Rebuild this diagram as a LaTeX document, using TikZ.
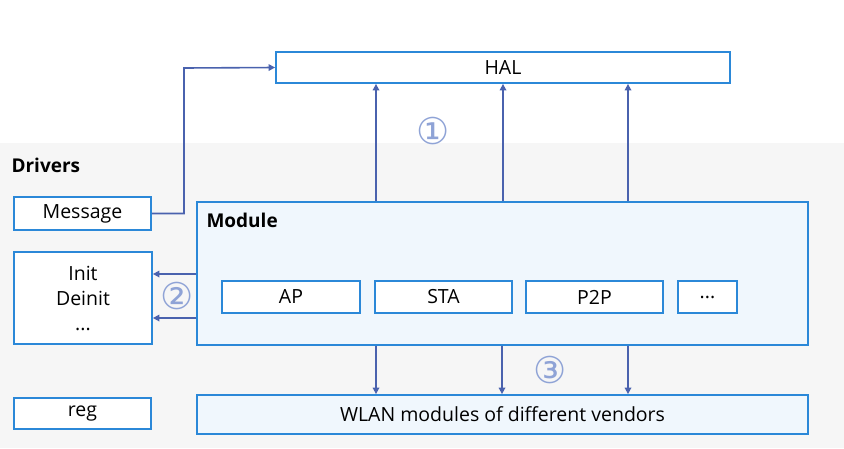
\documentclass[tikz,border=0pt]{standalone}
\usepackage{fontspec}
\setmainfont{Open Sans}
\newfontfamily\circfont{DejaVu Sans}
\usetikzlibrary{arrows.meta}
\definecolor{boxblue}{HTML}{2B88D8}
\definecolor{arrblue}{HTML}{4A62AE}
\definecolor{numblue}{HTML}{8FA3D6}
\definecolor{modfill}{HTML}{F0F7FD}
\definecolor{drvgray}{HTML}{F6F6F6}
\begin{document}
\begin{tikzpicture}[x=1pt,y=-1pt]
      \tikzset{box/.style={draw=boxblue, line width=1.8pt, fill=white, inner sep=0pt, font=\fontsize{19.5}{25}\selectfont},
               arr/.style={draw=arrblue, line width=1.6pt, -{Triangle[length=6.5pt,width=6.5pt]}},
               num/.style={text=numblue, font=\circfont\fontsize{37}{38}\selectfont}}
      \useasboundingbox (0,0) rectangle (844,448);
%% Background
      \fill[drvgray] (0,143) rectangle (844,448);
      \node[anchor=west, font=\bfseries\fontsize{19}{22}\selectfont] (drivers) at (8,165) {Drivers};
%% Boxes
	%HAL
      	\node[box, minimum width=454, minimum height=31] (hal) at (503,67.5) {HAL};
	%left column
      	\node[box, minimum width=137, minimum height=33] (msg) at (82.5,213.5) {Message};
      	\node[box, minimum width=138, minimum height=92, align=center] (init) at (83,298) {Init\\Deinit\\...};
      	\node[box, minimum width=137, minimum height=31] (reg) at (82.5,413.5) {reg};
	%Module
      	\node[box, fill=modfill, minimum width=611, minimum height=143] (module) at (502.5,273.5) {};
      	\node[anchor=west, font=\bfseries\fontsize{19}{22}\selectfont] (modlabel) at (203,220) {Module};
      	\node[box, minimum width=138, minimum height=32] (ap) at (291,297) {AP};
      	\node[box, minimum width=137, minimum height=32] (sta) at (443.5,297) {STA};
      	\node[box, minimum width=137, minimum height=32] (p2p) at (594.5,297) {P2P};
      	\node[box, minimum width=59, minimum height=32] (more) at (707.5,297) {...};
	%WLAN
      	\node[box, fill=modfill, minimum width=611, minimum height=39] (wlan) at (502.5,414.5) {WLAN modules of different vendors};
%% Connectors
      	\coordinate (bend) at (184,68);
      	\draw[arr] (msg.east) -| (bend) -- (hal.west);
      	\foreach \x in {376,503,628}
      		\draw[arr] (\x,0 |- module.north) -- (\x,0 |- hal.south);
      	\foreach \y in {274,318}
      		\draw[arr] (module.west |- 0,\y) -- (init.east |- 0,\y);
      	\foreach \x in {376,502,628}
      		\draw[arr] (\x,0 |- module.south) -- (\x,0 |- wlan.north);
%% Numbers
      	\node[num] (n1) at (433,131) {①};
      	\node[num] (n2) at (177,296) {②};
      	\node[num] (n3) at (550,370) {③};
\end{tikzpicture}
\end{document}
